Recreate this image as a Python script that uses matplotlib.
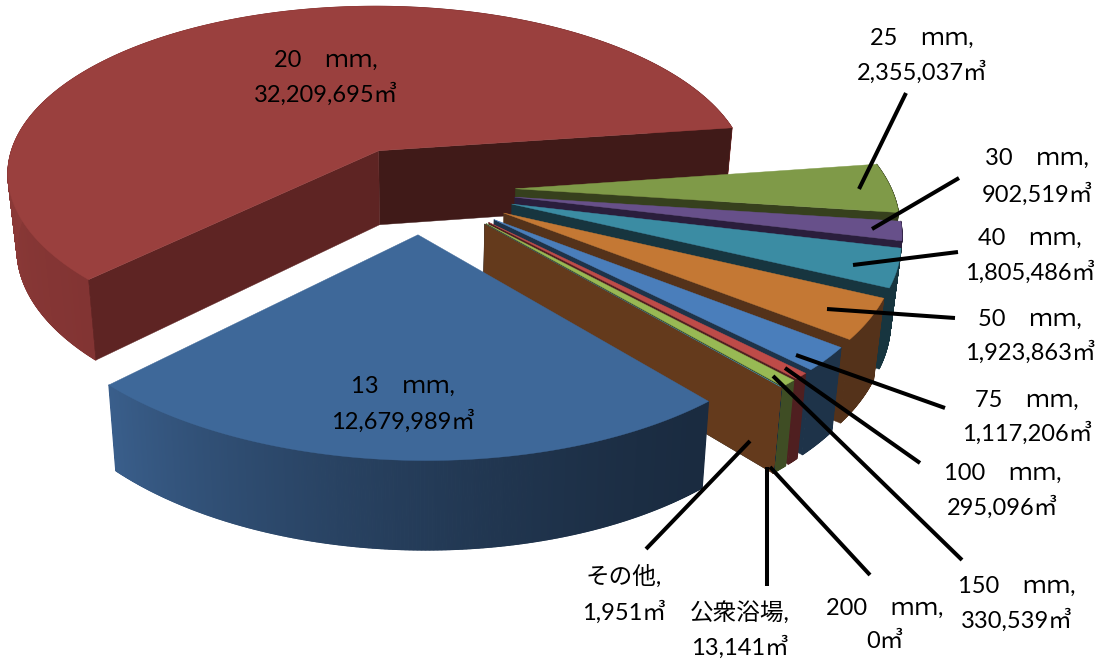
"""
exploded 3d pie chart of water use by pipe size
"""
import matplotlib
matplotlib.use("Agg")
import matplotlib.pyplot as plt
import numpy as np
from matplotlib.collections import PolyCollection
from matplotlib.colors import to_rgb

sizes = ["13　ｍｍ", "20　ｍｍ", "25　ｍｍ", "30　ｍｍ", "40　ｍｍ", "50　ｍｍ",
         "75　ｍｍ", "100　ｍｍ", "150　ｍｍ", "200　ｍｍ", "公衆浴場", "その他"]
volumes = [12679989, 32209695, 2355037, 902519, 1805486, 1923863,
           1117206, 295096, 330539, 0, 13141, 1951]

top_colors = ["#3e6899", "#9a403e", "#7f9a48", "#67508a", "#3b8ca3", "#c47834",
              "#4a7ebb", "#be4b48", "#98b954", "#7d60a0", "#46aac5", "#f79646"]
side_colors = ["#1a2b40", "#401a18", "#36401d", "#2a1e3c", "#17353f", "#54321a",
               "#1e3349", "#4f1f20", "#3f4d24", "#2a1e3c", "#17353f", "#643a1c"]
red_near_face = "#5e2423"

#Projection of the pie plane to pixels
cx, cy = 421, 189
scale_x, scale_y = 378, 176.5
persp = 0.15
tilt = 4
explode = 0.25
start_angle = 139.2


def project(x, y):
    w = 1 + persp * y
    return cx + scale_x * x / w, cy + (tilt * x - scale_y * y) / w


def drop(sx, sy):
    """bottom edge of the pie below a point of the top surface"""
    return cx + (sx - cx) * 0.978, sy + 74 + (sy - 150) * 0.05


def ring(theta, apex):
    t = np.radians(theta)
    return project(apex[0] + np.sin(t), apex[1] + np.cos(t))


def side_shade(i, theta):
    """outer wall shading of the two big slices, flat for the others"""
    dark = np.array(to_rgb(side_colors[i]))
    if i == 0:
        f = np.clip((theta - 140) / 85, 0, 1)
        return dark + (np.array(to_rgb("#3a5f8c")) - dark) * f**1.5
    if i == 1:
        f = np.clip((270 - theta) / 45, 0, 1)
        a = np.array(to_rgb("#8c3a38"))
        b = np.array(to_rgb("#823433"))
        return a + (b - a) * f
    return dark


fig = plt.figure(figsize=(11.01, 6.63), dpi=100)
ax = fig.add_axes([0, 0, 1, 1])
ax.set_xlim(0, 1101)
ax.set_ylim(663, 0)
ax.axis("off")

sweeps = np.array(volumes) / sum(volumes) * 360
starts = start_angle + np.concatenate([[0], np.cumsum(sweeps)[:-1]])
ends = starts + sweeps

#Far slices first, the 13 mm slice last
order = list(range(1, len(volumes))) + [0]
for i in order:
    mid = np.radians(starts[i] + sweeps[i] / 2)
    apex = (explode * np.sin(mid), explode * np.cos(mid))
    n = max(3, int(sweeps[i] * 6))
    thetas = np.linspace(starts[i], ends[i], n)
    rx, ry = ring(thetas, apex)
    bx, by = drop(rx, ry)
    ax_, ay_ = project(*apex)
    bax, bay = drop(ax_, ay_)

    #outer wall
    strips = [[(rx[k], ry[k]), (rx[k + 1], ry[k + 1]), (bx[k + 1], by[k + 1]), (bx[k], by[k])]
              for k in range(n - 1)]
    shades = [side_shade(i, thetas[k] % 360) for k in range(n - 1)]
    ax.add_collection(PolyCollection(strips, facecolors=shades, edgecolors=shades, linewidths=0.8))

    #cut faces that look toward the viewer
    if np.sin(np.radians(ends[i])) > 0:
        ax.fill([ax_, rx[-1], bx[-1], bax], [ay_, ry[-1], by[-1], bay], color=side_colors[i], lw=0.3)
    if np.sin(np.radians(starts[i])) < 0:
        ax.fill([ax_, rx[0], bx[0], bax], [ay_, ry[0], by[0], bay], color=red_near_face, lw=0.3)

    #top surface
    if sweeps[i] > 0.05:
        ax.fill(np.r_[ax_, rx], np.r_[ay_, ry], color=top_colors[i], lw=0.3)

#Leader lines and label positions in pixels
leaders = [None, None,
           (859, 189, 906, 93), (872, 229, 959, 178), (853, 265, 958, 252), (827, 309, 955, 318),
           (796, 355, 945, 408), (785, 368, 920, 463), (773, 376, 962, 560), (770, 467, 870, 575),
           (767, 467, 767, 586), (750, 441, 646, 549)]
label_x = [403, 326, 922, 1037, 1030, 1030, 1027, 1003, 1017, 885, 740, 624]
label_y = [(386, 421), (60, 94), (38, 72), (158, 194), (238, 272), (319, 352),
           (400, 433), (473, 507), (586, 620), (608, 642), (612, 647), (576, 612)]

for seg in leaders:
    if seg:
        ax.plot(seg[::2], seg[1::2], color="black", lw=2.9, solid_capstyle="butt")

fonts = ["Lato", "Noto Sans CJK JP", "DejaVu Sans"]
for name, vol, x, (y1, y2) in zip(sizes, volumes, label_x, label_y):
    ax.text(x, y1, name + ",", ha="center", va="center", fontsize=17, family=fonts)
    ax.text(x, y2, f"{vol:,}㎥", ha="center", va="center", fontsize=17, family=fonts)

fig.savefig("out.png", dpi=100)
